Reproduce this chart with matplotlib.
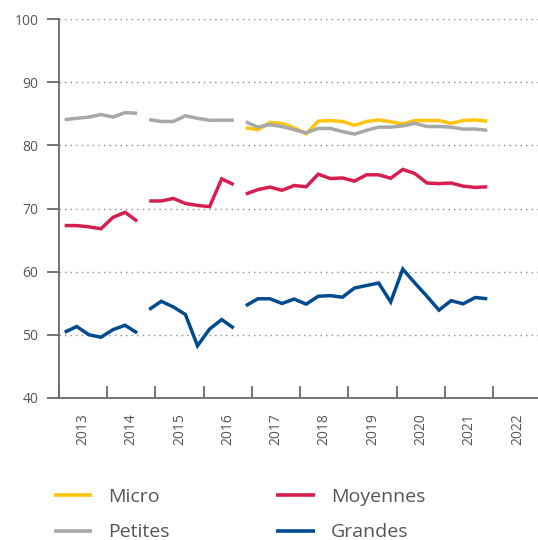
import matplotlib
matplotlib.use("Agg")
import matplotlib.pyplot as plt

plt.rcParams['font.family'] = ['Open Sans', 'DejaVu Sans']

# quarterly values 2013Q1 .. 2021Q4, series broken in three pieces
years = ['2013', '2014', '2015', '2016', '2017', '2018', '2019', '2020', '2021', '2022']
segments = [(0, 7), (7, 15), (15, 36)]

micro = [None] * 15 + [82.8, 82.5, 83.65, 83.5, 82.8, 81.85, 83.85, 83.95, 83.8, 83.2,
                       83.8, 84.05, 83.75, 83.4, 83.95, 83.95, 83.95, 83.5, 83.95, 84.05, 83.85]
petites = [84.1, 84.3, 84.5, 84.9, 84.5, 85.2, 85.1,
           84.1, 83.8, 83.8, 84.7, 84.3, 84.0, 84.0, 84.0,
           83.75, 82.9, 83.3, 83.0, 82.5, 82.0, 82.7, 82.7, 82.2, 81.8, 82.4,
           82.9, 82.9, 83.1, 83.5, 83.0, 83.0, 82.9, 82.6, 82.6, 82.4]
moyennes = [67.3, 67.3, 67.1, 66.8, 68.6, 69.4, 68.0,
            71.2, 71.2, 71.6, 70.8, 70.5, 70.3, 74.7, 73.8,
            72.3, 73.0, 73.4, 72.9, 73.65, 73.45, 75.45, 74.75, 74.85, 74.35, 75.35,
            75.35, 74.8, 76.2, 75.55, 74.05, 73.95, 74.05, 73.55, 73.35, 73.45]
grandes = [50.4, 51.3, 50.0, 49.6, 50.8, 51.5, 50.3,
           54.0, 55.3, 54.4, 53.2, 48.25, 50.9, 52.4, 51.05,
           54.6, 55.7, 55.7, 54.95, 55.65, 54.85, 56.1, 56.2, 55.95, 57.4, 57.8,
           58.2, 55.2, 60.4, 58.2, 56.1, 53.9, 55.4, 54.9, 55.9, 55.7]

series = [('Micro', micro, '#FFC40C'),
          ('Petites', petites, '#A7A8AA'),
          ('Moyennes', moyennes, '#D71F4F'),
          ('Grandes', grandes, '#004B8D')]

fig = plt.figure(figsize=(5.38, 5.40), dpi=100)
ax = fig.add_axes([0.109, 0.2633, 0.891, 0.701])

for name, vals, col in series:
    first = True
    for a, b in segments:
        xs = [i + 0.5 for i in range(a, b) if vals[i] is not None]
        ys = [vals[i] for i in range(a, b) if vals[i] is not None]
        if not xs:
            continue
        ax.plot(xs, ys, color=col, lw=2.5, solid_capstyle='butt',
                solid_joinstyle='miter', label=name if first else None)
        first = False

ax.set_ylim(40, 100)
ax.set_xlim(0, 39.7)
ax.set_yticks(range(40, 101, 10))
for v in range(50, 101, 10):
    ax.axhline(v, color='#8a8a8a', lw=1.0, ls=(0, (1, 3)), zorder=0)

for s in ['top', 'right']:
    ax.spines[s].set_visible(False)
for s in ['left', 'bottom']:
    ax.spines[s].set_color('#6b6b6b')
    ax.spines[s].set_linewidth(1.3)

ax.set_xticks(range(0, 40, 4))
ax.set_xticklabels([])
ax.set_xticks([i * 4 + 2 for i in range(len(years))], minor=True)
ax.set_xticklabels(years, minor=True, rotation=90)
ax.tick_params(axis='x', which='major', direction='in', length=8.6, width=1.3, color='#6b6b6b')
ax.tick_params(axis='x', which='minor', length=0, pad=11, labelsize=10, labelcolor='#555555')
ax.tick_params(axis='y', direction='out', length=8.6, width=1.3, color='#6b6b6b',
               pad=6, labelsize=10, labelcolor='#555555')

leg = fig.legend(loc='upper left', bbox_to_anchor=(0.085, 0.111), ncol=2, frameon=False,
                 fontsize=14, handlelength=2.0, handletextpad=0.8, columnspacing=5.5,
                 labelspacing=0.9, borderaxespad=0)
for t in leg.get_texts():
    t.set_color('#555555')
for h in leg.legend_handles:
    h.set_linewidth(2.6)

fig.savefig('out.png', dpi=100)
